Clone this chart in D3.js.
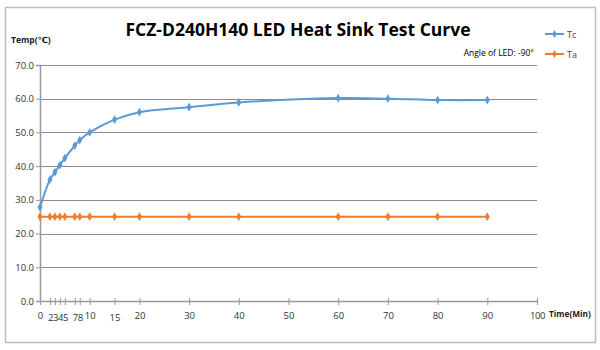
<!DOCTYPE html>
<html><head><meta charset="utf-8">
<script src="https://cdn.jsdelivr.net/npm/d3@7"></script>
<style>body{margin:0;background:#fff}svg{display:block}</style>
</head><body><svg id="c" width="600" height="350"></svg>
<script>
const times = [0,2,3,4,5,7,8,10,15,20,30,40,60,70,80,90];
const tcValues = [27.8,36.0,38.2,40.3,42.4,46.1,47.7,50.0,53.8,56.0,57.5,58.9,60.2,60.0,59.6,59.6];
const taValues = [25,25,25,25,25,25,25,25,25,25,25,25,25,25,25,25];
const xTicks = [0,2,3,4,5,7,8,10,15,20,30,40,50,60,70,80,90,100];
const xTickLabels = ["0","2","3","4","5","7","8","10","15","20","30","40","50","60","70","80","90","100"];
const yTicks = [0,10,20,30,40,50,60,70];
const seriesNames = ["Tc","Ta"];
const colors = ["#5B9BD5","#ED7D31"];

const svg = d3.select("#c");
svg.append("rect").attr("x",5.5).attr("y",7.5).attr("width",590).attr("height",335)
  .attr("fill","#fff").attr("stroke","#bdbdbd").attr("stroke-width",1.5);

const x = d3.scaleLinear().domain([0,100]).range([40,537]);
const y = d3.scaleLinear().domain([0,70]).range([301,65]);
const font = "'Open Sans', 'DejaVu Sans', sans-serif";

// grid
svg.append("g").selectAll("line").data(yTicks.filter(d=>d>0)).join("line")
  .attr("x1",x(0)).attr("x2",x(100)).attr("y1",d=>Math.round(y(d))+0.5).attr("y2",d=>Math.round(y(d))+0.5)
  .attr("stroke","#8c8c8c").attr("stroke-width",1);

// y axis
const ya = svg.append("g").attr("transform",`translate(${x(0)},0)`)
  .call(d3.axisLeft(y).tickValues(yTicks).tickFormat(d3.format(".1f")).tickSize(4).tickPadding(2));
ya.select(".domain").attr("stroke","#999").attr("stroke-width",1.5);
ya.selectAll(".tick line").attr("stroke","#999");
ya.selectAll(".tick text").attr("font-family",font).attr("font-size",9.5).attr("fill","#333");

// x axis
const xa = svg.append("g").attr("transform",`translate(0,${y(0)})`)
  .call(d3.axisBottom(x).tickValues(xTicks).tickFormat((d,i)=>xTickLabels[i]).tickSize(4).tickSizeOuter(0).tickPadding(6));
xa.select(".domain").attr("stroke","#999").attr("stroke-width",1.5);
xa.selectAll(".tick line").attr("stroke","#999").attr("y1",-3);
xa.selectAll(".tick text").attr("font-family",font).attr("font-size",9.5).attr("fill","#333")
  .attr("dy",(d)=>([2,3,4,5,7,8,15].includes(d)?"1.05em":"0.85em"))
  .attr("letter-spacing",(d)=>([2,3,4,5,7,8,100].includes(d)?"-0.5px":"0"));

// series
const allSeries = [tcValues, taValues];
const line = d3.line().x((d,i)=>x(times[i])).y(d=>y(d)).curve(d3.curveCatmullRom.alpha(0.5));
allSeries.forEach((vals,k)=>{
  svg.append("path").datum(vals).attr("d",line).attr("fill","none")
    .attr("stroke",colors[k]).attr("stroke-width",2);
  svg.append("g").selectAll("path").data(vals).join("path")
    .attr("d",d3.symbol(d3.symbolDiamond,22))
    .attr("transform",(d,i)=>`translate(${x(times[i])},${y(d)})`)
    .attr("fill",colors[k]);
});

// title & labels
svg.append("text").attr("x",298).attr("y",36).attr("text-anchor","middle")
  .attr("font-family",font).attr("font-weight","bold").attr("font-size",17.5).attr("fill","#000")
  .text("FCZ-D240H140 LED Heat Sink Test Curve");
svg.append("text").attr("x",11).attr("y",43).attr("font-family",font).attr("font-weight","bold")
  .attr("font-size",8.5).attr("fill","#222").text("Temp(℃)");
svg.append("text").attr("x",534).attr("y",56).attr("text-anchor","end").attr("font-family",font)
  .attr("font-size",8.5).attr("fill","#000").text("Angle of LED: -90°");
svg.append("text").attr("x",549).attr("y",317).attr("font-family",font).attr("font-weight","bold")
  .attr("font-size",8.3).attr("fill","#222").text("Time(Min)");

// legend
seriesNames.forEach((n,k)=>{
  const ly = 34 + k*20;
  svg.append("line").attr("x1",545).attr("x2",564).attr("y1",ly).attr("y2",ly)
    .attr("stroke",colors[k]).attr("stroke-width",2);
  svg.append("path").attr("d",d3.symbol(d3.symbolDiamond,18)).attr("transform",`translate(554.5,${ly})`).attr("fill",colors[k]);
  svg.append("text").attr("x",567).attr("y",ly+3.5).attr("font-family",font).attr("font-size",9)
    .attr("fill","#444").text(n);
});
</script></body></html>
